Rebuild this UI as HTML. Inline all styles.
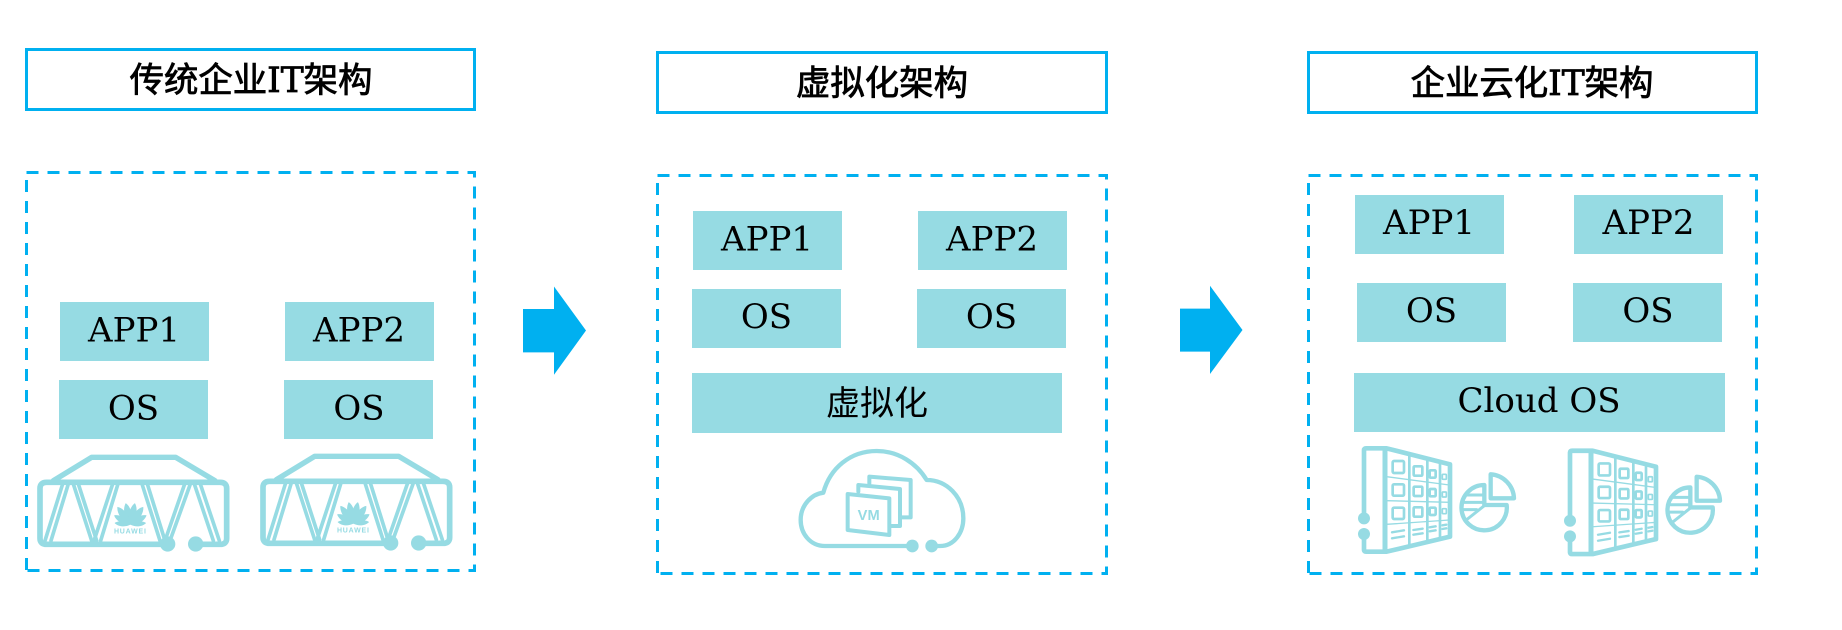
<!DOCTYPE html>
<html><head><meta charset="utf-8"><style>
html,body{margin:0;padding:0;background:#fff;width:1842px;height:630px;overflow:hidden}
svg{display:block}
.l{font-family:"DejaVu Serif","WenQuanYi Zen Hei",serif;font-size:34px;fill:#000;text-anchor:middle}
.t{font-family:"DejaVu Serif","WenQuanYi Zen Hei",serif;font-size:34.4px;fill:#000;text-anchor:middle;stroke:#000;stroke-width:.8px}
.c{font-family:"WenQuanYi Zen Hei","Noto Sans CJK SC",sans-serif;font-size:34px;fill:#000;text-anchor:middle}
.tb{fill:none;stroke:#00b0f0;stroke-width:3}
.db{fill:none;stroke:#00b0f0;stroke-width:3;stroke-dasharray:12 9}
.b{fill:#96dbe3}
.i{fill:none;stroke:#96dbe3;stroke-linejoin:round;stroke-linecap:round}
</style></head><body>
<svg width="1842" height="630" viewBox="0 0 1842 630" xmlns="http://www.w3.org/2000/svg">
<defs>
<path id="pt" d="M0,0 C-15,-22 -13,-52 0,-66 C13,-52 15,-22 0,0Z"/>
<g id="server" transform="translate(25,440) scale(.33333)">
<path class="i" stroke-width="16" d="M85,122 L200,52 H452 L570,122"/>
<path class="i" stroke-width="17" d="M425,313 H65 Q45,313 45,295 V145 Q45,127 65,127 H585 Q605,127 605,145 V295 Q605,313 585,313 H512"/>
<circle class="b" cx="428" cy="312" r="23"/><circle class="b" cx="512" cy="312" r="23"/>
<g class="i" stroke-width="11">
<path d="M112,135 L60,302M129,135 L78,302"/>
<path d="M146,135 L200,302M161,135 L215,302"/>
<path d="M262,135 L207,302M278,135 L227,302"/>
<path d="M352,135 L405,302M368,135 L420,302"/>
<path d="M478,135 L420,302M495,135 L435,302"/>
<path d="M509,135 L565,302M527,135 L583,302"/>
</g>
<g class="b" transform="translate(316,254)">
<use href="#pt" transform="rotate(-12)"/><use href="#pt" transform="rotate(12)"/>
<use href="#pt" transform="rotate(-36)"/><use href="#pt" transform="rotate(36)"/>
<use href="#pt" transform="rotate(-60) scale(.85)"/><use href="#pt" transform="rotate(60) scale(.85)"/>
<use href="#pt" transform="rotate(-84) scale(.72)"/><use href="#pt" transform="rotate(84) scale(.72)"/>
</g>
<text x="316" y="280" font-family="Liberation Sans,sans-serif" font-size="21" font-weight="bold" fill="#96dbe3" text-anchor="middle" letter-spacing="2.4">HUAWEI</text>
</g>
<g id="storage" transform="translate(1350,435) scale(.33333)">
<path class="i" stroke-width="14" d="M42,235 V45 Q42,40 48,40 H110 L300,88 V305 L110,350 H48 Q42,350 42,345 V300"/>
<path class="i" stroke-width="15" d="M105,42 V348"/>
<g class="i" stroke-width="8"><path d="M178,62 V332M232,78 V320M270,88 V310"/></g>
<g class="i" stroke-width="4"><path d="M110,125 L298,150M110,197 L298,202M110,268 L298,255"/></g>
<g class="i" stroke-width="8">
<rect x="128" y="78" width="34" height="36" rx="4"/><rect x="128" y="148" width="34" height="34" rx="4"/><rect x="128" y="218" width="34" height="34" rx="4"/>
<rect x="191" y="94" width="26" height="28" rx="3"/><rect x="191" y="155" width="26" height="28" rx="3"/><rect x="191" y="217" width="26" height="28" rx="3"/>
<rect x="239" y="106" width="18" height="22" rx="3"/><rect x="239" y="162" width="18" height="22" rx="3"/><rect x="239" y="218" width="18" height="22" rx="3"/>
</g>
<g class="i" stroke-width="5"><rect x="277" y="118" width="12" height="15" rx="2"/><rect x="277" y="171" width="12" height="15" rx="2"/><rect x="277" y="221" width="12" height="15" rx="2"/></g>
<g class="i" stroke-width="7"><path d="M126,292 L162,286M126,310 L162,304M190,285 L218,281M190,299 L218,295M239,277 L257,274M239,289 L257,286M277,271 L289,269M277,282 L289,280"/></g>
<circle class="b" cx="42" cy="250" r="18"/><circle class="b" cx="42" cy="297" r="18"/>
<path class="i" stroke-width="13" d="M422,118 A75,75 0 0 1 492,190 H422 Z"/>
<path class="i" stroke-width="13" d="M403,150 A68,68 0 1 0 470,210 H403 Z"/>
<path class="i" stroke-width="9" d="M403,212 L345,258M350,180 H403M338,202 H403M338,224 H380"/>
</g>
</defs>

<!-- Column 1 -->
<rect class="tb" x="26.5" y="49.5" width="448" height="60"/>
<text class="t" x="251" y="92">传统企业IT架构</text>
<path class="db" d="M26.5,172.5 H474.5 V570.5 H26.5"/>
<path class="db" d="M26.5,180 V570"/>
<rect class="b" x="60" y="302" width="149" height="59"/><text class="l" x="134" y="341.5">APP1</text>
<rect class="b" x="285" y="302" width="149" height="59"/><text class="l" x="359" y="341.5">APP2</text>
<rect class="b" x="59" y="380" width="149" height="59"/><text class="l" x="133.5" y="419.5">OS</text>
<rect class="b" x="284" y="380" width="149" height="59"/><text class="l" x="359" y="419.5">OS</text>
<use href="#server"/>
<use href="#server" transform="translate(223,-1)"/>
<polygon points="523,309 554,309 554,286.5 586,330.5 554,374.8 554,352.4 523,352.4" fill="#00b0f0"/>

<!-- Column 2 -->
<rect class="tb" x="657.5" y="52.5" width="449" height="60"/>
<text class="t" x="882" y="95">虚拟化架构</text>
<path class="db" d="M657.5,175.5 H1106.5 V573.5 H657.5"/>
<path class="db" d="M657.5,183 V573"/>
<rect class="b" x="693" y="211" width="149" height="59"/><text class="l" x="767" y="250.3">APP1</text>
<rect class="b" x="918" y="211" width="149" height="59"/><text class="l" x="992" y="250.3">APP2</text>
<rect class="b" x="692" y="289" width="149" height="59"/><text class="l" x="766.5" y="327.8">OS</text>
<rect class="b" x="917" y="289" width="149" height="59"/><text class="l" x="991.5" y="327.8">OS</text>
<rect class="b" x="692" y="373" width="370" height="60"/><text class="c" x="877" y="415">虚拟化</text>
<g transform="translate(780,440) scale(.33333)">
<path class="i" stroke-width="13" d="M390,318 H135 C90,318 62,280 62,240 C62,195 95,162 130,158 C150,85 210,33 290,33 C355,33 410,70 440,120 C500,120 550,170 550,235 C550,275 525,318 480,318 H455"/>
<circle class="b" cx="397" cy="318" r="19"/><circle class="b" cx="455" cy="318" r="19"/>
<path class="i" stroke-width="12" d="M203,162 L328,175 V285 L203,270 Z"/>
<path class="i" stroke-width="12" d="M235,155 V135 L360,147 V258 H332"/>
<path class="i" stroke-width="12" d="M268,130 V110 L392,120 V232 H362"/>
<text x="266" y="240" font-family="Liberation Sans,sans-serif" font-size="44" font-weight="bold" fill="#96dbe3" text-anchor="middle">VM</text>
</g>
<polygon points="1180,308.6 1210,308.6 1210,285.7 1242.5,330 1210,374 1210,351.6 1180,351.6" fill="#00b0f0"/>

<!-- Column 3 -->
<rect class="tb" x="1308.5" y="52.5" width="448" height="60"/>
<text class="t" x="1532" y="95">企业云化IT架构</text>
<path class="db" d="M1308.5,175.5 H1756.5 V573.5 H1308.5"/>
<path class="db" d="M1308.5,183 V573"/>
<rect class="b" x="1355" y="195" width="149" height="59"/><text class="l" x="1429" y="234.2">APP1</text>
<rect class="b" x="1574" y="195" width="149" height="59"/><text class="l" x="1648.5" y="234.2">APP2</text>
<rect class="b" x="1357" y="283" width="149" height="59"/><text class="l" x="1431.5" y="321.8">OS</text>
<rect class="b" x="1573" y="283" width="149" height="59"/><text class="l" x="1648" y="321.8">OS</text>
<rect class="b" x="1354" y="373" width="371" height="59"/><text class="l" x="1539" y="412">Cloud OS</text>
<use href="#storage"/>
<use href="#storage" transform="translate(206,2.4)"/>
</svg>
</body></html>
